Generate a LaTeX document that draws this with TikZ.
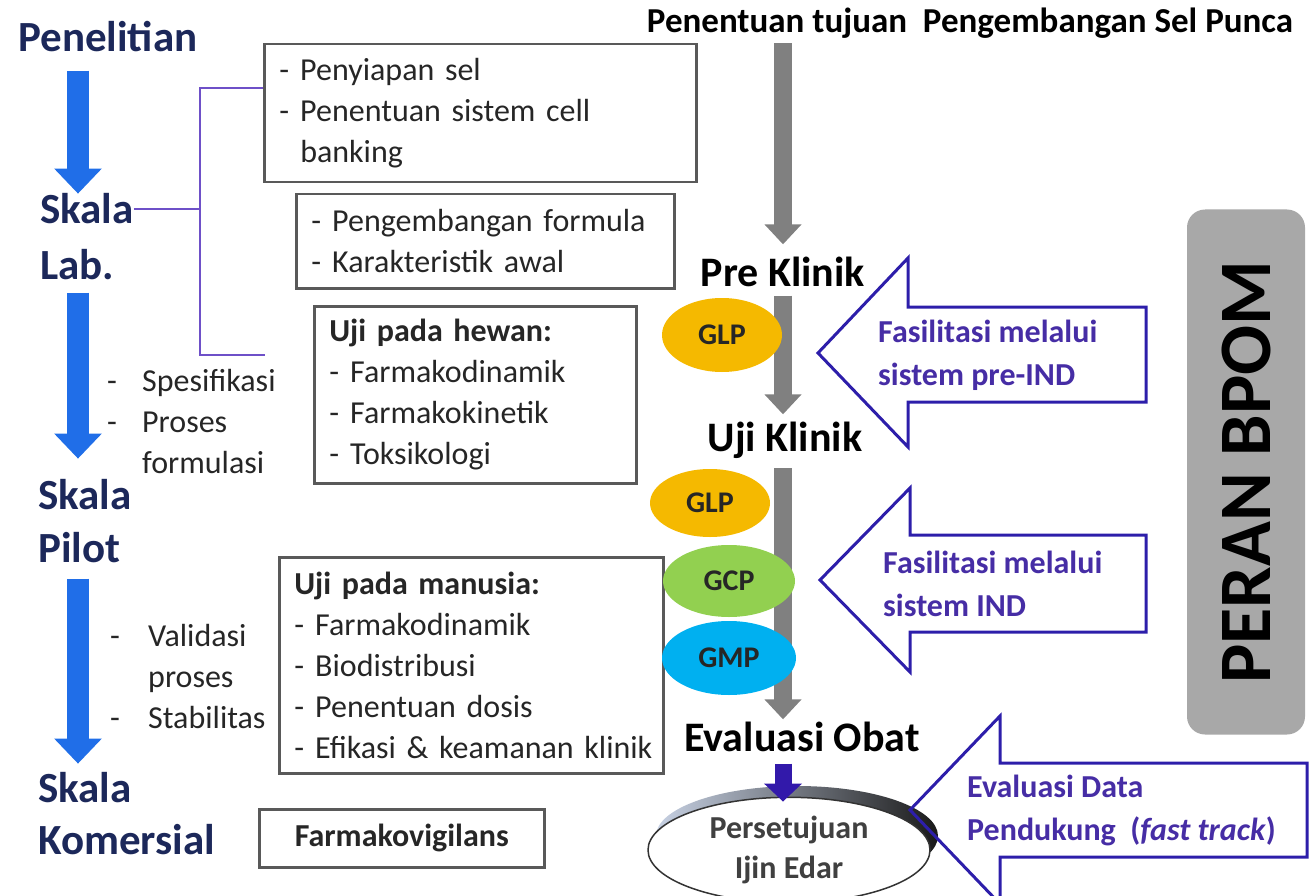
\documentclass[tikz,border=0pt]{standalone}
\usepackage{fontspec}
\setmainfont{Carlito}
\usetikzlibrary{arrows.meta,shapes.geometric}

\definecolor{navy}{RGB}{28,40,90}
\definecolor{stepblue}{RGB}{32,110,232}
\definecolor{boxgray}{RGB}{89,89,89}
\definecolor{bracketviolet}{RGB}{110,80,200}
\definecolor{indigoline}{RGB}{45,30,170}
\definecolor{indigotext}{RGB}{70,45,165}
\definecolor{glpcol}{RGB}{245,185,0}
\definecolor{gcpcol}{RGB}{146,208,80}
\definecolor{gmpcol}{RGB}{0,176,240}
\definecolor{bpomgray}{RGB}{168,168,168}
\definecolor{flowgray}{RGB}{128,128,128}
\definecolor{darkarrow}{RGB}{50,25,170}
\definecolor{rimlight}{RGB}{200,210,228}
\definecolor{rimmid}{RGB}{110,130,165}

\newcommand{\fs}[2]{\fontsize{#1}{#2}\selectfont}
\newcommand{\itm}[1]{\mbox{\makebox[21pt][l]{-}#1}}

\tikzset{
  stage/.style={font=\fs{43}{50}\bfseries, text=navy, inner sep=0pt, anchor=base west},
  phase/.style={font=\fs{42}{50}\bfseries, inner sep=0pt, anchor=base},
  infobox/.style={draw=boxgray, line width=2.5pt, inner xsep=15pt, inner ysep=0pt,
    align=left, font=\fs{32}{41}, text=black!85, anchor=north west},
  note/.style={align=left, font=\fs{32}{41}, text=black!85, inner sep=0pt, anchor=west},
  stagearrow/.style={draw=stepblue, line width=22pt, -{Triangle[width=46pt,length=25pt]}},
  flowarrow/.style={draw=flowgray, line width=18pt, -{Triangle[width=36pt,length=20pt]}},
  gxp/.style={ellipse, inner sep=0pt, font=\fs{30}{34}\bfseries, text=black!85},
  hollowarrow/.style={draw=indigoline, line width=3pt, line join=miter},
  facil/.style={align=left, font=\fs{32}{43}\bfseries, text=indigotext, inner sep=0pt, anchor=west},
  bracket/.style={draw=bracketviolet, line width=2pt}
}

\begin{document}
\begin{tikzpicture}[x=1pt,y=-1pt]
  \useasboundingbox (0,0) rectangle (1309,896);
  \clip (0,0) rectangle (1309,896);

  % tahapan kiri
  \node[stage] (pen) at (18,52) {Penelitian};
  \node[stage] (skl) at (40,224) {Skala};
  \node[stage] (lab) at (40,279) {Lab.};
  \node[stage] (skp) at (38,509) {Skala};
  \node[stage] (pil) at (38,562) {Pilot};
  \node[stage] (skk) at (38,802) {Skala};
  \node[stage] (kom) at (38,854) {Komersial};
  \coordinate (spine) at (78,0);
  \draw[stagearrow, shorten <=18pt] (pen.south -| spine) -- (skl.north -| spine);
  \draw[stagearrow, shorten <=13pt, shorten >=20pt] (lab.south -| spine) -- (skp.north -| spine);
  \draw[stagearrow, shorten <=16pt, shorten >=8pt] (pil.south -| spine) -- (skk.north -| spine);

  \node[note] (spec) at (107,422) {\makebox[35pt][l]{-}Spesifikasi\\\makebox[35pt][l]{-}Proses\\\hspace*{35pt}formulasi};
  \node[note] (valid) at (110,677) {\makebox[38pt][l]{-}Validasi\\\hspace*{38pt}proses\\\makebox[38pt][l]{-}Stabilitas};

  % kotak kegiatan
  \node[infobox, text width=402, minimum height=138] (box1) at (263,43)
    {\itm{Penyiapan sel}\\\itm{Penentuan sistem cell}\\\hspace*{21pt}banking};
  \node[infobox, text width=348, minimum height=94] (box2) at (295,193)
    {\itm{Pengembangan formula}\\\itm{Karakteristik awal}};
  \node[infobox, text width=292, minimum height=177] (box3) at (313,305)
    {\textbf{Uji pada hewan:}\\\itm{Farmakodinamik}\\\itm{Farmakokinetik}\\\itm{Toksikologi}};
  \node[infobox, text width=354, minimum height=216] (box4) at (278,556)
    {\textbf{Uji pada manusia:}\\\itm{Farmakodinamik}\\\itm{Biodistribusi}\\\itm{Penentuan dosis}\\\itm{Efikasi \& keamanan klinik}};
  \node[infobox, text width=255, minimum height=58, align=center] (box5) at (258,808)
    {\textbf{Farmakovigilans}};

  \coordinate (brk) at (200,0);
  \coordinate (brkend) at (265,355);
  \draw[bracket] ([yshift=25pt]box1.west) -| (brkend -| brk) -- (brkend);
  \draw[bracket] (skl.east) -- (skl.east -| brk);

  % alur tengah
  \node[font=\fs{35}{40}\bfseries, inner sep=0pt, anchor=base] (hdr) at (970,33) {Penentuan tujuan\ \ Pengembangan Sel Punca};
  \node[phase] (pk) at (783,286) {Pre Klinik};
  \node[phase] (uk) at (785,451) {Uji Klinik};
  \node[phase] (evo) at (802,751) {Evaluasi Obat};
  \draw[flowarrow, shorten <=4pt, shorten >=12pt] (hdr.south -| pk) -- (pk.north);
  \draw[flowarrow, shorten <=9pt, shorten >=7pt] (pk.south) -- (uk.north -| pk);
  \draw[flowarrow, shorten <=10pt, shorten >=2pt] (uk.south -| pk) -- (evo.north -| pk);

  \node[gxp, fill=glpcol, minimum width=120, minimum height=74] (glpa) at (722,335) {GLP};
  \node[gxp, fill=glpcol, minimum width=120, minimum height=68] (glpb) at (710,503) {GLP};
  \node[gxp, fill=gcpcol, minimum width=132, minimum height=72] (gcp) at (729,581) {GCP};
  \node[gxp, fill=gmpcol, minimum width=134, minimum height=74] (gmp) at (729,658) {GMP};

  % persetujuan
  \node[ellipse, minimum width=282, minimum height=100, shading=axis,
    left color=rimlight, middle color=rimmid, right color=black!90] (pijrim) at (797,836) {};
  \node[ellipse, minimum width=282, minimum height=100, fill=white, draw=black!80,
    line width=1.5pt, font=\fs{32}{40}\bfseries, text=black!75, align=center] (pij) at (789,850)
    {Persetujuan\\Ijin Edar};
  \draw[draw=darkarrow, line width=17pt, -{Triangle[width=37pt,length=18pt]},
    shorten <=12pt, shorten >=-5pt] (evo.south -| pk) -- (pij.north -| pk);

  % peran BPOM
  \draw[hollowarrow] (818,353) -- (908,258) -- (908,307) -- (1146,307) -- (1146,402)
    -- (908,402) -- (908,447) -- cycle;
  \node[facil] (preind) at (878,355) {Fasilitasi melalui\\sistem pre-IND};
  \draw[hollowarrow] (820,580) -- (910,488) -- (910,535) -- (1146,535) -- (1146,632)
    -- (910,632) -- (910,672) -- cycle;
  \node[facil] (ind) at (883,584) {Fasilitasi melalui\\sistem IND};
  \draw[hollowarrow] (910,810) -- (1000,716) -- (1000,763) -- (1307,763) -- (1307,857)
    -- (1000,857) -- (1000,904) -- cycle;
  \node[facil] (fast) at (967,810) {Evaluasi Data\\Pendukung\ \ (\textit{fast track})};

  \node[fill=bpomgray, rounded corners=18pt, rotate=90, minimum width=525, minimum height=118,
    inner sep=0pt, font=\fs{74}{80}\bfseries] (bpom) at (1246,472) {PERAN BPOM};
\end{tikzpicture}
\end{document}
